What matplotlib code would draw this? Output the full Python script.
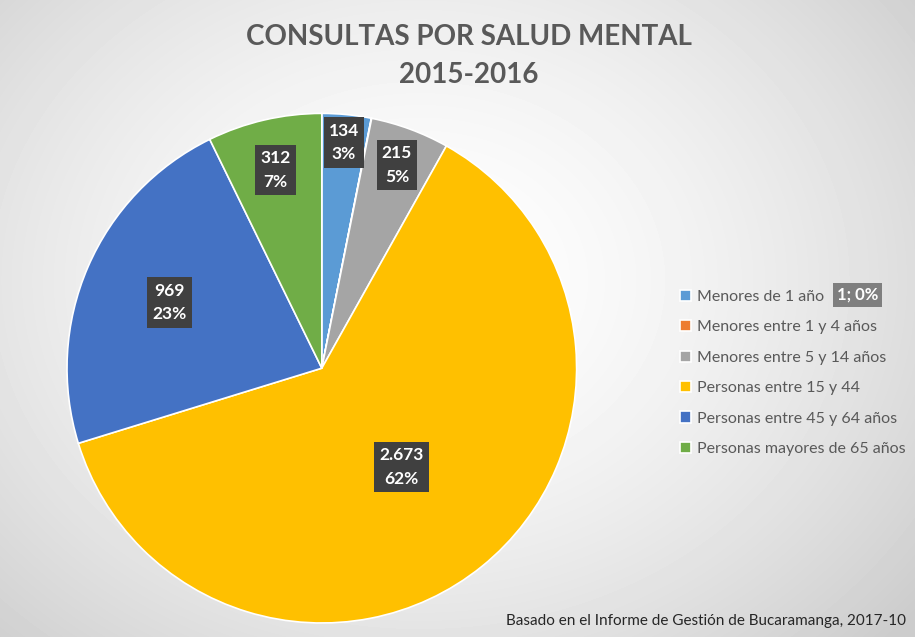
import numpy as np
import matplotlib
matplotlib.use("Agg")
import matplotlib.pyplot as plt

# data
categories = ["Menores de 1 año", "Menores entre 1 y 4 años", "Menores entre 5 y 14 años",
              "Personas entre 15 y 44", "Personas entre 45 y 64 años", "Personas mayores de 65 años"]
values = [134, 1, 215, 2673, 969, 312]
value_labels = ["134", "1", "215", "2.673", "969", "312"]
pct_labels = ["3%", "0%", "5%", "62%", "23%", "7%"]
colors = ["#5B9BD5", "#ED7D31", "#A5A5A5", "#FFC000", "#4472C4", "#70AD47"]
label_radius = [0.89, None, 0.85, 0.50, 0.65, 0.80]

plt.rcParams['font.family'] = ['Lato', 'DejaVu Sans']

fig = plt.figure(figsize=(9.15, 6.37), dpi=100)

# radial gradient background
bg = fig.add_axes([0, 0, 1, 1], zorder=-10)
yy, xx = np.mgrid[0:637, 0:915]
d = np.sqrt(((xx - 420) / 640.0) ** 2 + ((yy - 280) / 520.0) ** 2)
shade = 1.0 - 0.2 * np.clip(d, 0, 1) ** 1.6
bg.imshow(shade, cmap="gray", vmin=0, vmax=1, aspect="auto", interpolation="bilinear")
bg.axis("off")

ax = fig.add_axes([0.0732, 0.022, 0.557, 0.80])
wedges, _ = ax.pie(values, colors=colors, startangle=90, counterclock=False,
                   wedgeprops=dict(edgecolor="white", linewidth=1.2))
ax.set_aspect("equal")
ax.set_xlim(-1, 1)
ax.set_ylim(-1, 1)

box = dict(boxstyle="square,pad=0.3", facecolor="#404040", edgecolor="none")
for w, r, v, p in zip(wedges, label_radius, value_labels, pct_labels):
    if r is None:
        continue
    ang = np.deg2rad((w.theta1 + w.theta2) / 2)
    ax.text(r * np.cos(ang), r * np.sin(ang), v + "\n" + p, ha="center", va="center",
            color="white", fontsize=12.5, fontweight="bold", linespacing=1.6, bbox=box)

# tiny slice label placed beside legend
fig.text(0.937, 0.537, value_labels[1] + "; " + pct_labels[1], ha="center", va="center",
         color="white", fontsize=12, fontweight="bold",
         bbox=dict(boxstyle="square,pad=0.25", facecolor="#7F7F7F", edgecolor="none"))

leg = fig.legend(wedges, categories, loc="upper left", bbox_to_anchor=(0.727, 0.568),
                 frameon=False, fontsize=11.5, handlelength=0.7, handleheight=0.7,
                 handletextpad=0.4, labelspacing=1.02, labelcolor="#595959")

fig.text(0.512, 0.912, "CONSULTAS POR SALUD MENTAL\n2015-2016", ha="center", va="center",
         fontsize=20, fontweight="bold", color="#595959", linespacing=1.6)

fig.text(0.99, 0.025, "Basado en el Informe de Gestión de Bucaramanga, 2017-10",
         ha="right", va="center", fontsize=11, color="#262626")

fig.savefig("out.png", dpi=100)
